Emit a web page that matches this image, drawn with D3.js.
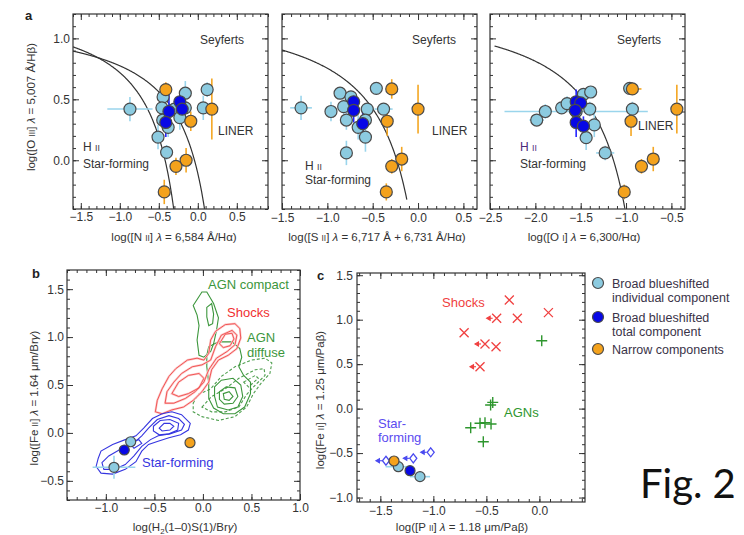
<!DOCTYPE html>
<html>
<head>
<meta charset="utf-8">
<script src="https://cdn.jsdelivr.net/npm/d3@7"></script>
<style>
  body { margin: 0; background: #fff; }
  text { font-family: "Liberation Sans", Arial, sans-serif; }
</style>
</head>
<body>
<script>
// DATA //
// points: [x, y, xerr, yerr]
const a1Indiv = [[-0.87, 0.42, 0.29, 0.1], [-0.445, 0.52, 0.05, 0.06], [-0.46, 0.43, 0.05, 0.05], [-0.45, 0.33, 0.04, 0.08],
    [-0.38, 0.27, 0.04, 0.08], [-0.51, 0.19, 0.03, 0.1], [-0.40, 0.065, 0.03, 0.06], [-0.30, 0.42, 0.05, 0.05],
    [-0.23, 0.35, 0.04, 0.1], [-0.16, 0.55, 0.04, 0.1], [-0.16, 0.43, 0.04, 0.06], [0.07, 0.43, 0.03, 0.1], [0.12, 0.58, 0.03, 0.06]];
const a1Total = [[-0.37, 0.40, 0, 0.15], [-0.41, 0.31, 0, 0.12], [-0.23, 0.48, 0, 0.08], [-0.20, 0.42, 0, 0.06]];
const a1Narrow = [[-0.41, 0.58, 0, 0.06], [0.18, 0.42, 0, 0.25], [-0.09, 0.32, 0, 0.08], [-0.15, 0.0, 0, 0.1],
    [-0.28, -0.05, 0, 0.07], [-0.43, -0.26, 0, 0.1]];

const a2Indiv = [[-1.29, 0.43, 0.12, 0.1], [-0.96, 0.40, 0, 0.08], [-0.86, 0.55, 0, 0.05], [-0.74, 0.52, 0, 0.05],
    [-0.82, 0.44, 0, 0.06], [-0.79, 0.33, 0, 0.08], [-0.66, 0.27, 0, 0.1], [-0.58, 0.19, 0, 0.12], [-0.56, 0.42, 0, 0.05],
    [-0.58, 0.33, 0, 0.06], [-0.79, 0.06, 0.06, 0.1], [-0.46, 0.59, 0, 0.04], [-0.38, 0.42, 0.1, 0.05]];
const a2Total = [[-0.71, 0.48, 0, 0.08], [-0.71, 0.41, 0, 0.1], [-0.61, 0.30, 0, 0.12]];
const a2Narrow = [[-0.29, 0.585, 0, 0.08], [0.0, 0.42, 0, 0.2], [-0.34, 0.32, 0, 0.12], [-0.18, 0.01, 0, 0.1],
    [-0.29, -0.05, 0, 0.06], [-0.35, -0.26, 0, 0.07]];

const a3Indiv = [[-1.55, 0.40, 0.79, 0], [-1.985, 0.33, 0.08, 0.05], [-1.89, 0.40, 0, 0.06], [-1.71, 0.43, 0, 0.05],
    [-1.65, 0.465, 0, 0.06], [-1.47, 0.54, 0, 0.05], [-1.39, 0.56, 0, 0.05], [-1.40, 0.42, 0, 0.06], [-1.35, 0.29, 0, 0.1],
    [-1.44, 0.185, 0, 0.1], [-1.23, 0.06, 0.1, 0.06], [-0.96, 0.59, 0, 0.04], [-0.93, 0.42, 0, 0.06]];
const a3Total = [[-1.55, 0.48, 0, 0.1], [-1.50, 0.47, 0, 0.1], [-1.56, 0.41, 0, 0.1], [-1.55, 0.31, 0, 0.12], [-1.47, 0.28, 0, 0.08]];
const a3Narrow = [[-0.93, 0.585, 0.1, 0], [-0.945, 0.32, 0, 0.12], [-0.44, 0.42, 0, 0.2], [-0.70, 0.01, 0, 0.1],
    [-0.83, -0.05, 0, 0.06], [-1.02, -0.26, 0, 0.06]];

// demarcation lines y = k0 / (x - k1) + k2, drawn from x0 to x1
const kauffmannNII = [0.61, 0.05, 1.3, -1.6, -0.309];
const kewleyNII = [0.61, 0.47, 1.19, -1.6, 0.086];
const kewleySII = [0.72, 0.32, 1.30, -1.5, -0.1235];
const kewleyOI = [0.73, -0.59, 1.33, -2.45, -1.0125];

const bIndiv = [[-0.744, -0.092, 0, 0], [-0.916, -0.359, 0.22, 0.12]];
const bTotal = [[-0.81, -0.178, 0.05, 0]];
const bNarrow = [[-0.133, -0.102, 0, 0]];

// contours of panel b
const bStarForming = [
    [[-1.08, -0.27], [-1.05, -0.19], [-0.93, -0.12], [-0.80, -0.07], [-0.69, -0.03], [-0.61, 0.05], [-0.52, 0.15], [-0.42, 0.20],
        [-0.32, 0.22], [-0.22, 0.19], [-0.13, 0.10], [-0.15, 0.03], [-0.23, -0.02], [-0.35, -0.05], [-0.47, -0.09], [-0.56, -0.12],
        [-0.63, -0.19], [-0.69, -0.30], [-0.80, -0.38], [-0.93, -0.43], [-1.05, -0.42], [-1.10, -0.35]],
    [[-1.04, -0.31], [-0.97, -0.24], [-0.85, -0.17], [-0.73, -0.12], [-0.63, -0.03], [-0.56, 0.05], [-0.47, 0.14], [-0.35, 0.18],
        [-0.25, 0.15], [-0.19, 0.09], [-0.22, 0.03], [-0.34, -0.01], [-0.46, -0.03], [-0.54, -0.07], [-0.63, -0.14], [-0.71, -0.24],
        [-0.80, -0.33], [-0.91, -0.38], [-1.02, -0.38]],
    [[-0.51, 0.07], [-0.44, 0.13], [-0.34, 0.14], [-0.25, 0.10], [-0.26, 0.03], [-0.35, -0.01], [-0.45, -0.02], [-0.51, 0.02]],
    [[-0.45, 0.05], [-0.40, 0.10], [-0.34, 0.10], [-0.30, 0.07], [-0.34, 0.03], [-0.42, 0.02]],
    [[-0.76, -0.10], [-0.66, -0.07], [-0.63, -0.11], [-0.71, -0.16]]
];
const bShocks = [
    [[-0.49, 0.22], [-0.47, 0.34], [-0.42, 0.46], [-0.35, 0.59], [-0.28, 0.67], [-0.16, 0.76], [-0.06, 0.78], [0.01, 0.76],
        [0.06, 0.83], [0.08, 0.97], [0.13, 1.06], [0.23, 1.13], [0.33, 1.14], [0.38, 1.09], [0.39, 0.99], [0.35, 0.88],
        [0.26, 0.81], [0.16, 0.76], [0.09, 0.66], [0.06, 0.53], [-0.01, 0.43], [-0.10, 0.34], [-0.20, 0.27], [-0.32, 0.24], [-0.42, 0.20]],
    [[-0.39, 0.31], [-0.37, 0.43], [-0.30, 0.53], [-0.22, 0.62], [-0.11, 0.69], [-0.01, 0.71], [0.08, 0.76], [0.13, 0.90],
        [0.19, 1.02], [0.30, 1.07], [0.35, 1.02], [0.33, 0.92], [0.25, 0.85], [0.14, 0.78], [0.06, 0.66], [0.01, 0.53],
        [-0.08, 0.43], [-0.18, 0.36], [-0.30, 0.31]],
    [[-0.32, 0.41], [-0.25, 0.53], [-0.15, 0.60], [-0.04, 0.62], [0.01, 0.57], [-0.04, 0.47], [-0.15, 0.41], [-0.25, 0.38]],
    [[0.17, 0.93], [0.23, 1.03], [0.30, 1.04], [0.32, 0.98], [0.28, 0.91], [0.21, 0.89]]
];
const bAgnSolid = [
    [[-0.10, 1.33], [-0.01, 1.47], [0.04, 1.47], [0.11, 1.35], [0.16, 1.20], [0.14, 1.07], [0.11, 0.93], [0.08, 0.85],
        [0.01, 0.79], [-0.04, 0.81], [-0.06, 0.97], [-0.04, 1.12], [-0.06, 1.23]],
    [[0.04, 1.31], [0.09, 1.35], [0.11, 1.24], [0.10, 1.14], [0.06, 1.12], [0.04, 1.21]],
    [[0.06, 0.90], [0.16, 0.95], [0.30, 0.95], [0.38, 0.88], [0.40, 0.79], [0.37, 0.69], [0.42, 0.60], [0.49, 0.53],
        [0.49, 0.41], [0.43, 0.27], [0.33, 0.20], [0.21, 0.20], [0.11, 0.26], [0.06, 0.36], [0.06, 0.52], [0.04, 0.69], [0.04, 0.81]],
    [[0.12, 0.48], [0.19, 0.55], [0.31, 0.57], [0.39, 0.50], [0.41, 0.38], [0.36, 0.27], [0.26, 0.24], [0.15, 0.27], [0.12, 0.38]],
    [[0.17, 0.43], [0.24, 0.48], [0.33, 0.47], [0.36, 0.38], [0.31, 0.31], [0.22, 0.30], [0.17, 0.35]],
    [[0.21, 0.41], [0.27, 0.43], [0.31, 0.38], [0.27, 0.34], [0.22, 0.35]]
];
const bAgnDashed = [
    [[-0.10, 0.31], [-0.05, 0.40], [0.08, 0.46], [0.19, 0.59], [0.33, 0.69], [0.50, 0.76], [0.64, 0.78], [0.71, 0.73],
        [0.69, 0.62], [0.60, 0.52], [0.52, 0.41], [0.45, 0.27], [0.33, 0.17], [0.16, 0.13], [-0.01, 0.17], [-0.10, 0.22]],
    [[-0.01, 0.27], [0.09, 0.38], [0.23, 0.46], [0.37, 0.57], [0.54, 0.66], [0.63, 0.67], [0.64, 0.60], [0.54, 0.50],
        [0.45, 0.40], [0.37, 0.27], [0.23, 0.22], [0.09, 0.22]],
    [[0.42, 0.53], [0.54, 0.60], [0.57, 0.57], [0.47, 0.48]]
];

// panel c: [x, y, upper limit on x]
const cShocks = [[-0.71, 0.854, 0], [-0.56, 0.471, 1], [-0.513, 0.727, 1], [-0.409, 0.696, 0], [-0.403, 1.016, 1],
    [-0.284, 1.221, 0], [-0.208, 1.016, 0], [0.085, 1.079, 0]];
const cAgn = [[0.022, 0.764], [-0.44, 0.07], [-0.46, 0.04], [-0.648, -0.215], [-0.56, -0.165], [-0.513, -0.158],
    [-0.456, -0.173], [-0.529, -0.372]];
const cStarForming = [[-1.447, -0.586], [-1.189, -0.559], [-1.025, -0.491]];
const cIndiv = [[-1.33, -0.653, 0.12, 0], [-1.126, -0.765, 0.095, 0]];
const cTotal = [[-1.22, -0.698, 0, 0]];
const cNarrow = [[-1.371, -0.589, 0, 0]];

// major tick values
const aYTicks = [0, 0.5, 1.0];
const a1XTicks = [-1.5, -1.0, -0.5, 0, 0.5];
const a2XTicks = [-1.5, -1.0, -0.5, 0, 0.5];
const a3XTicks = [-2.5, -2.0, -1.5, -1.0, -0.5];
const bXTicks = [-1.0, -0.5, 0, 0.5, 1.0];
const bYTicks = [-0.5, 0, 0.5, 1.0, 1.5];
const cXTicks = [-1.5, -1.0, -0.5, 0];
const cYTicks = [-1.0, -0.5, 0, 0.5, 1.0, 1.5];

const legendLabels = [['Broad blueshifted', 'individual component'], ['Broad blueshifted', 'total component'], ['Narrow components']];

// STYLE //
const ink = '#333';
const colIndiv = '#8ccbe0', colTotal = '#0808e6', colNarrow = '#f4a21c';
const errIndiv = '#9ad5ec', errTotal = '#2424ff', errNarrow = '#f4a622';

const svg = d3.select('body').append('svg').attr('width', 744).attr('height', 535);

// BUILD a framed panel with inside ticks on four sides
let clipId = 0;
function panel(o) {
    const x = d3.scaleLinear().domain(o.xd).range(o.xr);
    const y = d3.scaleLinear().domain(o.yd).range(o.yr);
    const g = svg.append('g');
    const fmt = d3.format('.1f');
    const minor = d => d3.range(Math.ceil(d[0] * 10 - 1e-6), Math.floor(d[1] * 10 + 1e-6) + 1).map(v => v / 10);
    const sides = [
        [d3.axisBottom, `translate(0,${o.yr[0]})`, x, o.xMajor, true],
        [d3.axisTop, `translate(0,${o.yr[1]})`, x, o.xMajor, false],
        [d3.axisLeft, `translate(${o.xr[0]},0)`, y, o.yMajor, o.yLabels],
        [d3.axisRight, `translate(${o.xr[1]},0)`, y, o.yMajor, false]
    ];
    sides.forEach(([ax, tr, s, major, lab]) => {
        g.append('g').attr('transform', tr)
            .call(ax(s).tickValues(minor(s.domain())).tickSize(-3).tickFormat(''))
            .call(a => a.select('.domain').remove());
        g.append('g').attr('transform', tr)
            .call(ax(s).tickValues(major).tickSize(-6).tickPadding(o.pad || 4).tickFormat(lab ? fmt : ''))
            .call(a => a.select('.domain').remove());
    });
    g.selectAll('.tick line').attr('stroke', ink).attr('stroke-width', 1);
    g.selectAll('.tick text').attr('fill', ink).style('font-size', '12px')
        .style('font-family', '"Liberation Sans", Arial, sans-serif');
    g.append('rect')
        .attr('x', o.xr[0]).attr('y', o.yr[1])
        .attr('width', o.xr[1] - o.xr[0]).attr('height', o.yr[0] - o.yr[1])
        .attr('fill', 'none').attr('stroke', ink).attr('stroke-width', 1.2);
    const id = 'clip' + (clipId++);
    svg.append('clipPath').attr('id', id).append('rect')
        .attr('x', o.xr[0]).attr('y', o.yr[1])
        .attr('width', o.xr[1] - o.xr[0]).attr('height', o.yr[0] - o.yr[1]);
    const plot = svg.append('g').attr('clip-path', `url(#${id})`);
    return { x, y, plot, top: svg.append('g') };
}

// text with small caps / italic / subscript parts
function rich(sel, parts, x, y, size, opts) {
    opts = opts || {};
    const t = sel.append('text')
        .attr('x', x).attr('y', y)
        .attr('font-size', size)
        .attr('fill', opts.fill || ink)
        .attr('text-anchor', opts.anchor || 'middle');
    if (opts.rotate) t.attr('transform', `rotate(-90,${x},${y})`);
    let shift = 0;
    parts.forEach(([s, k]) => {
        const ts = t.append('tspan').text(s);
        let want = 0;
        if (k === 'sc') ts.attr('font-size', size * 0.72);
        if (k === 'i') ts.attr('font-style', 'italic');
        if (k === 'sub') { ts.attr('font-size', size * 0.68); want = 3; }
        if (want !== shift) { ts.attr('dy', want - shift); shift = want; }
    });
    return t;
}

function errorBars(p, data, color) {
    const g = p.plot.append('g').attr('stroke', color).attr('stroke-width', 1.6);
    g.selectAll('.ex').data(data.filter(d => d[2] > 0)).join('line')
        .attr('x1', d => p.x(d[0] - d[2])).attr('x2', d => p.x(d[0] + d[2]))
        .attr('y1', d => p.y(d[1])).attr('y2', d => p.y(d[1]));
    g.selectAll('.ey').data(data.filter(d => d[3] > 0)).join('line')
        .attr('x1', d => p.x(d[0])).attr('x2', d => p.x(d[0]))
        .attr('y1', d => p.y(d[1] - d[3])).attr('y2', d => p.y(d[1] + d[3]));
}

function dots(p, data, fill, r) {
    p.plot.append('g').selectAll('circle').data(data).join('circle')
        .attr('cx', d => p.x(d[0])).attr('cy', d => p.y(d[1])).attr('r', r)
        .attr('fill', fill).attr('stroke', '#4a4a4a').attr('stroke-width', 1.2);
}

function allPoints(p, indiv, total, narrow, r) {
    errorBars(p, indiv, errIndiv);
    errorBars(p, total, errTotal);
    errorBars(p, narrow, errNarrow);
    dots(p, indiv, colIndiv, r);
    dots(p, total, colTotal, r);
    dots(p, narrow, colNarrow, r);
}

function demarcation(p, k) {
    const pts = d3.range(k[3], k[4], 0.005).map(v => [v, k[0] / (v - k[1]) + k[2]]);
    pts.push([k[4], k[0] / (k[4] - k[1]) + k[2]]);
    p.plot.append('path').datum(pts)
        .attr('d', d3.line().x(d => p.x(d[0])).y(d => p.y(d[1])))
        .attr('fill', 'none').attr('stroke', '#333').attr('stroke-width', 1.2);
}

// PANEL a //
const aY = { yd: [-0.4, 1.2], yr: [209, 14], yMajor: aYTicks };
const a1 = panel(Object.assign({ xd: [-1.6, 0.9], xr: [73, 268], xMajor: a1XTicks, yLabels: true, pad: 3 }, aY));
const a2 = panel(Object.assign({ xd: [-1.5, 0.65], xr: [282, 477], xMajor: a2XTicks, yLabels: false }, aY));
const a3 = panel(Object.assign({ xd: [-2.5, -0.35], xr: [490, 685], xMajor: a3XTicks, yLabels: false }, aY));

demarcation(a1, kauffmannNII);
demarcation(a1, kewleyNII);
demarcation(a2, kewleySII);
demarcation(a3, kewleyOI);

allPoints(a1, a1Indiv, a1Total, a1Narrow, 6);
allPoints(a2, a2Indiv, a2Total, a2Narrow, 6);
allPoints(a3, a3Indiv, a3Total, a3Narrow, 6);

// region names
[[a1, 200, 44, 218, 135, 83, 151, 168, ink], [a2, 412, 44, 432, 135, 305, 170, 184, ink],
 [a3, 617, 44, 638, 130, 520, 151, 168, '#4a2a7a']].forEach(([p, sx, sy, lx, ly, hx, hy, fy, hc]) => {
    rich(p.top, [['Seyferts']], sx, sy, 12, { anchor: 'start' });
    rich(p.top, [['LINER']], lx, ly, 12, { anchor: 'start' });
    rich(p.top, [['H '], ['II', 'sc']], hx, hy, 12, { anchor: 'start', fill: hc });
    rich(p.top, [['Star-forming']], hx, fy, 12, { anchor: 'start' });
});

rich(svg, [['log([N '], ['II', 'sc'], ['] '], ['λ', 'i'], [' = 6,584 Å/Hα)']], 174, 241, 11.5);
rich(svg, [['log([S '], ['II', 'sc'], ['] '], ['λ', 'i'], [' = 6,717 Å + 6,731 Å/Hα)']], 377, 241, 11.5);
rich(svg, [['log([O '], ['I', 'sc'], ['] '], ['λ', 'i'], [' = 6,300/Hα)']], 584, 241, 11.5);
rich(svg, [['log([O '], ['III', 'sc'], ['] '], ['λ', 'i'], [' = 5,007 Å/Hβ)']], 35, 107, 11.5, { rotate: true });
svg.append('text').attr('x', 25).attr('y', 20).attr('font-size', 13).attr('font-weight', 'bold').attr('fill', '#222').text('a');

// PANEL b //
const b = panel({ xd: [-1.4, 1.0], xr: [67, 300], yd: [-0.7, 1.7], yr: [500, 270], xMajor: bXTicks, yMajor: bYTicks, yLabels: true, pad: 3 });
const contour = d3.line().x(d => b.x(d[0])).y(d => b.y(d[1])).curve(d3.curveLinearClosed);

b.plot.append('g').selectAll('path').data(bAgnDashed).join('path')
    .attr('d', contour).attr('fill', 'none').attr('stroke', '#4f9f4f').attr('stroke-width', 1.1).attr('stroke-dasharray', '3,2');
b.plot.append('g').selectAll('path').data(bAgnSolid).join('path')
    .attr('d', contour).attr('fill', 'none').attr('stroke', '#3c963c').attr('stroke-width', 1.1);
b.plot.append('g').selectAll('path').data(bShocks).join('path')
    .attr('d', contour).attr('fill', 'none').attr('stroke', '#fbcaca').attr('stroke-width', 2.2);
b.plot.append('g').selectAll('path').data(bShocks).join('path')
    .attr('d', contour).attr('fill', 'none').attr('stroke', '#f04848').attr('stroke-width', 0.9);
b.plot.append('g').selectAll('path').data(bStarForming).join('path')
    .attr('d', contour).attr('fill', 'none').attr('stroke', '#3535e0').attr('stroke-width', 1.1);

allPoints(b, bIndiv, bTotal, bNarrow, 5);

rich(b.top, [['AGN compact']], 208, 289, 13, { anchor: 'start', fill: '#3c963c' });
rich(b.top, [['Shocks']], 227, 317, 13, { anchor: 'start', fill: '#f03030' });
rich(b.top, [['AGN']], 247, 342, 13, { anchor: 'start', fill: '#3c963c' });
rich(b.top, [['diffuse']], 247, 357, 13, { anchor: 'start', fill: '#3c963c' });
rich(b.top, [['Star-forming']], 142, 467, 13, { anchor: 'start', fill: '#3535e0' });

rich(svg, [['log(H'], ['2', 'sub'], ['(1–0)S(1)/Br'], ['γ', 'i'], [')']], 185, 531, 11.5);
rich(svg, [['log([Fe '], ['II', 'sc'], ['] '], ['λ', 'i'], [' = 1.64 μm/Br'], ['γ', 'i'], [')']], 38, 398, 11.5, { rotate: true });
svg.append('text').attr('x', 32).attr('y', 278).attr('font-size', 13).attr('font-weight', 'bold').attr('fill', '#222').text('b');

// PANEL c //
const c = panel({ xd: [-1.72, 0.43], xr: [357, 585], yd: [-1.05, 1.525], yr: [502, 273], xMajor: cXTicks, yMajor: cYTicks, yLabels: true, pad: 4 });

// upper limit arrows
const limitArrow = (sel, color, data) => {
    const g = sel.append('g').attr('stroke', color).attr('fill', color).attr('stroke-width', 1.1);
    data.forEach(d => {
        const px = c.x(d[0]), py = c.y(d[1]);
        g.append('line').attr('x1', px - 4).attr('x2', px - 7).attr('y1', py).attr('y2', py);
        g.append('path').attr('d', `M${px - 10},${py}L${px - 6.5},${py - 2}L${px - 6.5},${py + 2}Z`);
    });
};

c.plot.append('g').selectAll('path').data(cShocks).join('path')
    .attr('d', d => `M${c.x(d[0]) - 4.5},${c.y(d[1]) - 4.5}l9,9M${c.x(d[0]) - 4.5},${c.y(d[1]) + 4.5}l9,-9`)
    .attr('stroke', '#f04040').attr('stroke-width', 1.3).attr('fill', 'none');
limitArrow(c.plot, '#f04040', cShocks.filter(d => d[2]));

c.plot.append('g').selectAll('path').data(cAgn).join('path')
    .attr('d', d => `M${c.x(d[0]) - 5.5},${c.y(d[1])}h11M${c.x(d[0])},${c.y(d[1]) - 5.5}v11`)
    .attr('stroke', '#2e962e').attr('stroke-width', 1.4).attr('fill', 'none');

c.plot.append('g').selectAll('path').data(cStarForming).join('path')
    .attr('d', d => `M${c.x(d[0])},${c.y(d[1]) - 4.5}l3.5,4.5l-3.5,4.5l-3.5,-4.5Z`)
    .attr('stroke', '#4a4af0').attr('stroke-width', 1.3).attr('fill', 'none');
limitArrow(c.plot, '#4a4af0', cStarForming);

allPoints(c, cIndiv, cTotal, cNarrow, 5);

rich(c.top, [['Shocks']], 442, 307, 13, { anchor: 'start', fill: '#f04040' });
rich(c.top, [['AGNs']], 504, 417, 13, { anchor: 'start', fill: '#2e962e' });
rich(c.top, [['Star-']], 378, 428, 13, { anchor: 'start', fill: '#5b4cf0' });
rich(c.top, [['forming']], 378, 442, 13, { anchor: 'start', fill: '#5b4cf0' });

rich(svg, [['log([P '], ['II', 'sc'], ['] '], ['λ', 'i'], [' = 1.18 μm/Paβ)']], 462, 531, 11.5);
rich(svg, [['log([Fe '], ['II', 'sc'], ['] '], ['λ', 'i'], [' = 1.25 μm/Paβ)']], 324, 400, 11.5, { rotate: true });
svg.append('text').attr('x', 317).attr('y', 280).attr('font-size', 13).attr('font-weight', 'bold').attr('fill', '#222').text('c');

// LEGEND //
const legendFill = [colIndiv, colTotal, colNarrow];
const legendY = [283, 317, 349];
const legend = svg.append('g');
legendLabels.forEach((lines, i) => {
    legend.append('circle').attr('cx', 598).attr('cy', legendY[i]).attr('r', 5.5)
        .attr('fill', legendFill[i]).attr('stroke', '#4a4a4a').attr('stroke-width', 1.2);
    lines.forEach((s, j) => {
        legend.append('text').attr('x', 612).attr('y', legendY[i] + 4.5 + j * 14)
            .attr('font-size', 12.5).attr('fill', '#3a3348').text(s);
    });
});

// FIG LABEL //
svg.append('text').attr('x', 640).attr('y', 498)
    .style('font-family', 'Lato, "Open Sans", sans-serif').attr('font-size', 40).attr('fill', '#111').text('Fig. 2');
</script>
</body>
</html>
